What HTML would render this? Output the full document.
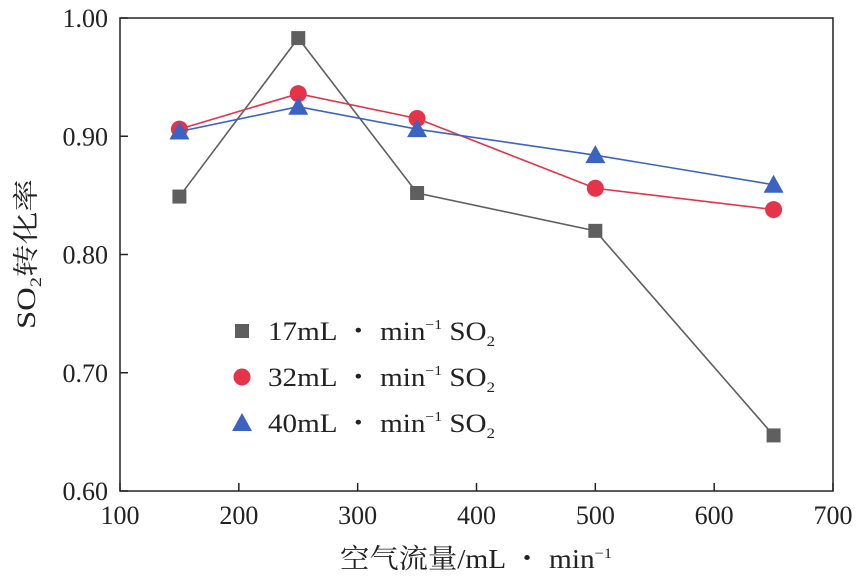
<!DOCTYPE html>
<html><head><meta charset="utf-8"><style>
body{margin:0;background:#fff}
svg text{font-family:"Liberation Serif","Noto Serif CJK SC",serif;fill:#222}
</style></head><body>
<svg width="859" height="580" id="c">
<rect x="120" y="18" width="713" height="473" fill="none" stroke="#222" stroke-width="1.5"/>
<g id="ax"></g><g id="series"></g>
<text x="340" y="568" font-size="27" textLength="272" lengthAdjust="spacingAndGlyphs">空气流量/mL ・ min<tspan font-size="15" dy="-10">−1</tspan></text>
<text transform="translate(35,254) rotate(-90)" font-size="26" text-anchor="middle" textLength="150" lengthAdjust="spacingAndGlyphs">SO<tspan font-size="16" dy="6">2</tspan><tspan dy="-6">转化率</tspan></text>
<g id="legend"></g>
</svg>
<script>
const xs=[150,250,350,500,650];
const s17=[0.849,0.983,0.852,0.820,0.647];
const s32=[0.906,0.936,0.915,0.856,0.838];
const s40=[0.904,0.925,0.906,0.884,0.859];
const xTicks=[100,200,300,400,500,600,700];
const yTicks=[0.60,0.70,0.80,0.90,1.00];
const labels=["17mL ・ min","32mL ・ min","40mL ・ min"];
const NS="http://www.w3.org/2000/svg";
const X=v=>120+(v-100)/600*713, Y=v=>491-(v-0.6)/0.4*473;
function mk(t,a,p){const e=document.createElementNS(NS,t);for(const k in a)e.setAttribute(k,a[k]);p.appendChild(e);return e;}
const ax=document.getElementById('ax');
xTicks.forEach(t=>{const l=mk('line',{x1:X(t),x2:X(t),y1:491,y2:483,stroke:'#222','stroke-width':1.5},ax);


const tx=mk('text',{x:X(t),y:524,'font-size':26,'text-anchor':'middle'},ax);tx.textContent=t;

});
yTicks.forEach(t=>{const l=mk('line',{x1:120,x2:128,y1:Y(t),y2:Y(t),stroke:'#222','stroke-width':1.5},ax);


const tx=mk('text',{x:108,y:Y(t)+9,'font-size':26,'text-anchor':'end'},ax);tx.textContent=t.toFixed(2);

});
const sg=document.getElementById('series');
function marker(type,cx,cy,col,p){let e;
if(type==='sq')e=mk('rect',{x:cx-7,y:cy-7,width:14,height:14,fill:col},p);
else if(type==='ci')e=mk('circle',{cx:cx,cy:cy,r:8.5,fill:col},p);
else e=mk('polygon',{points:`${cx},${cy-10} ${cx-10},${cy+8} ${cx+10},${cy+8}`,fill:col},p);return e;}
const defs=[[s17,'#5f5f5f','sq','series-17'],[s32,'#e53349','ci','series-32'],[s40,'#3c63c2','tr','series-40']];
defs.forEach(([d,col,m,n])=>{const g=mk('g',{},sg);


const pl=mk('polyline',{points:d.map((v,i)=>X(xs[i])+','+Y(v)).join(' '),fill:'none',stroke:col,'stroke-width':1.6},g);


d.forEach((v,i)=>{const e=marker(m,X(xs[i]),Y(v),col,g);

});});
const lg=document.getElementById('legend');
defs.forEach(([d,col,m,n],i)=>{const y=331+i*46;const g=mk('g',{},lg);


marker(m,242,y,col,g);
const t=mk('text',{x:268,y:y+9,'font-size':26,textLength:227,lengthAdjust:'spacingAndGlyphs'},g);
t.innerHTML=labels[i]+'<tspan font-size="14" dy="-11">−1</tspan><tspan dy="11"> SO</tspan><tspan font-size="15" dy="6">2</tspan>';});
</script>
</body></html>
